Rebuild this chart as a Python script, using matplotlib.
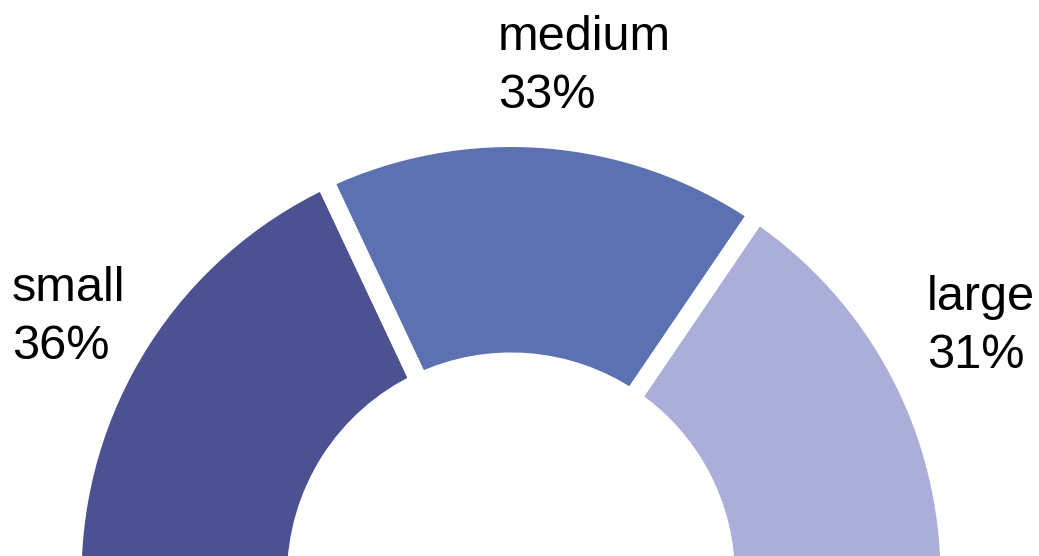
import matplotlib.pyplot as plt

# half-donut: shares of the three sizes
labels = ['small', 'medium', 'large']
shares = [36, 33, 31]
colors = ['#4b5191', '#5b71b2', '#aaaed9']

plt.rcParams['font.family'] = ['Liberation Sans', 'DejaVu Sans']

fig = plt.figure(figsize=(10.39, 5.56), dpi=100)
ax = fig.add_axes([0, 0, 1, 1])

# hidden wedge takes the lower half of the circle
vals = shares + [sum(shares)]
wedges, _ = ax.pie(vals, colors=colors + ['white'], startangle=180, counterclock=False,
                   center=(511, -20.5), radius=438.5,
                   wedgeprops=dict(width=223.5, edgecolor='white', linewidth=13))
wedges[-1].set_visible(False)

ax.set_xlim(0, 1039)
ax.set_ylim(0, 556)
ax.set_aspect('equal')
ax.axis('off')

label_pos = [(12, 290), (498, 541), (927, 281)]
for (x, y), name, s in zip(label_pos, labels, shares):
    ax.text(x, y, f'{name}\n{s}%', ha='left', va='top', fontsize=35,
            linespacing=1.36, color='black')

fig.savefig('out.png', dpi=100)
